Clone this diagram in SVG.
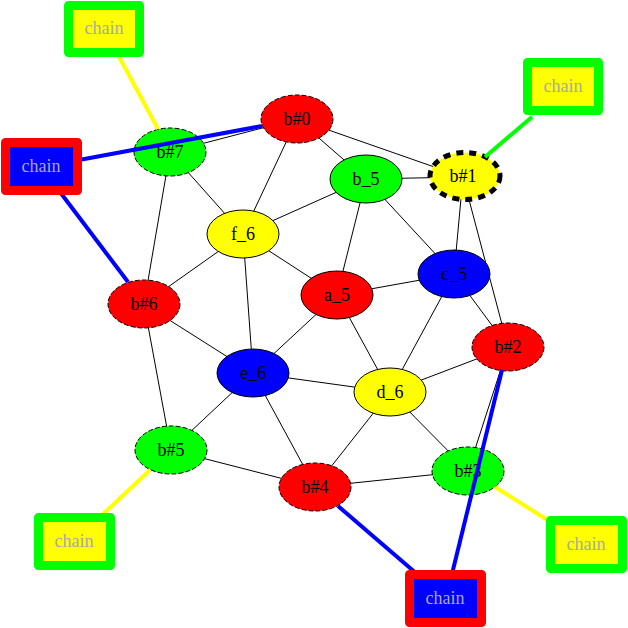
<svg xmlns="http://www.w3.org/2000/svg" width="628" height="628" viewBox="0 0 628 628">
<style>
.e{stroke:#000;stroke-width:1;fill:none}
.n ellipse{stroke:#000;stroke-width:1}
.d ellipse{stroke-dasharray:5,2}
.lbl{font-family:"Liberation Serif","Times New Roman",serif;font-size:18px;text-anchor:middle;dominant-baseline:central;fill:#000}
.ch rect{stroke-width:9;stroke-linejoin:round}
.ch text{font-family:"Liberation Serif","Times New Roman",serif;font-size:18px;text-anchor:middle;dominant-baseline:central;fill:#a8a8a8}
.ce{stroke-width:4;fill:none}
</style>
<rect width="628" height="628" fill="#fff"/>
<g id="edges">
<line class="e" x1="297" y1="119" x2="170" y2="152"/>
<line class="e" x1="297" y1="119" x2="463" y2="177"/>
<line class="e" x1="297" y1="119" x2="366" y2="179"/>
<line class="e" x1="297" y1="119" x2="243" y2="234"/>
<line class="e" x1="170" y1="152" x2="243" y2="234"/>
<line class="e" x1="170" y1="152" x2="144" y2="304"/>
<line class="e" x1="366" y1="179" x2="463" y2="177"/>
<line class="e" x1="366" y1="179" x2="243" y2="234"/>
<line class="e" x1="366" y1="179" x2="337" y2="295"/>
<line class="e" x1="366" y1="179" x2="454" y2="274"/>
<line class="e" x1="463" y1="177" x2="454" y2="274"/>
<line class="e" x1="463" y1="177" x2="508" y2="347"/>
<line class="e" x1="243" y1="234" x2="144" y2="304"/>
<line class="e" x1="243" y1="234" x2="337" y2="295"/>
<line class="e" x1="243" y1="234" x2="253" y2="373"/>
<line class="e" x1="454" y1="274" x2="337" y2="295"/>
<line class="e" x1="454" y1="274" x2="508" y2="347"/>
<line class="e" x1="454" y1="274" x2="390" y2="392"/>
<line class="e" x1="337" y1="295" x2="253" y2="373"/>
<line class="e" x1="337" y1="295" x2="390" y2="392"/>
<line class="e" x1="144" y1="304" x2="253" y2="373"/>
<line class="e" x1="144" y1="304" x2="171" y2="450"/>
<line class="e" x1="253" y1="373" x2="390" y2="392"/>
<line class="e" x1="253" y1="373" x2="171" y2="450"/>
<line class="e" x1="253" y1="373" x2="315" y2="487"/>
<line class="e" x1="390" y1="392" x2="508" y2="347"/>
<line class="e" x1="390" y1="392" x2="315" y2="487"/>
<line class="e" x1="390" y1="392" x2="468" y2="471"/>
<line class="e" x1="508" y1="347" x2="468" y2="471"/>
<line class="e" x1="171" y1="450" x2="315" y2="487"/>
<line class="e" x1="315" y1="487" x2="468" y2="471"/>
</g>
<g id="b0" class="n d"><ellipse cx="297" cy="119" rx="36" ry="24" fill="#ff0000"/><text class="lbl" x="297" y="119">b#0</text></g>
<g id="b7" class="n d"><ellipse cx="170" cy="152" rx="36" ry="24" fill="#00ff00"/><text class="lbl" x="170" y="152">b#7</text></g>
<g id="b1"><ellipse cx="465" cy="176" rx="35" ry="23.5" fill="#ffff00" stroke="#000" stroke-width="5" stroke-dasharray="7,6"/><text class="lbl" x="463" y="176">b#1</text></g>
<g id="b_5" class="n"><ellipse cx="366" cy="179" rx="36" ry="24" fill="#00ff00"/><text class="lbl" x="366" y="179">b_5</text></g>
<g id="f_6" class="n"><ellipse cx="243" cy="234" rx="36" ry="24" fill="#ffff00"/><text class="lbl" x="243" y="234">f_6</text></g>
<g id="c_5" class="n"><ellipse cx="454" cy="274" rx="36" ry="24" fill="#0000ff"/><text class="lbl" x="454" y="274">c_5</text></g>
<g id="a_5" class="n"><ellipse cx="337" cy="295" rx="36" ry="24" fill="#ff0000"/><text class="lbl" x="337" y="295">a_5</text></g>
<g id="b6" class="n d"><ellipse cx="144" cy="304" rx="36" ry="24" fill="#ff0000"/><text class="lbl" x="144" y="304">b#6</text></g>
<g id="b2" class="n d"><ellipse cx="508" cy="347" rx="36" ry="24" fill="#ff0000"/><text class="lbl" x="508" y="347">b#2</text></g>
<g id="e_6" class="n"><ellipse cx="253" cy="373" rx="36" ry="24" fill="#0000ff"/><text class="lbl" x="253" y="373">e_6</text></g>
<g id="d_6" class="n"><ellipse cx="390" cy="392" rx="36" ry="24" fill="#ffff00"/><text class="lbl" x="390" y="392">d_6</text></g>
<g id="b5" class="n d"><ellipse cx="171" cy="450" rx="36" ry="24" fill="#00ff00"/><text class="lbl" x="171" y="450">b#5</text></g>
<g id="b3" class="n d"><ellipse cx="468" cy="471" rx="36" ry="24" fill="#00ff00"/><text class="lbl" x="468" y="471">b#3</text></g>
<g id="b4" class="n d"><ellipse cx="315" cy="487" rx="36" ry="24" fill="#ff0000"/><text class="lbl" x="315" y="487">b#4</text></g>
<g id="chains">
<line class="ce" stroke="#ffff00" x1="117" y1="53" x2="158" y2="129"/>
<line class="ce" stroke="#0000ff" x1="79" y1="160" x2="262" y2="126"/>
<line class="ce" stroke="#0000ff" x1="60" y1="192" x2="128" y2="282"/>
<line class="ce" stroke="#00ff00" x1="532" y1="117" x2="485" y2="157"/>
<line class="ce" stroke="#ffff00" x1="100" y1="517" x2="150" y2="470"/>
<line class="ce" stroke="#ffff00" x1="549" y1="521" x2="495" y2="487"/>
<line class="ce" stroke="#0000ff" x1="417" y1="574" x2="338" y2="506"/>
<line class="ce" stroke="#0000ff" x1="452" y1="574" x2="502" y2="370"/>
</g>
<g id="chain1" class="ch"><rect x="68.5" y="5.5" width="71" height="47" fill="#ffff00" stroke="#00ff00"/><text x="104" y="28">chain</text></g>
<g id="chain2" class="ch"><rect x="5.5" y="142.5" width="72" height="48" fill="#0000ff" stroke="#ff0000"/><text x="41" y="166">chain</text></g>
<g id="chain3" class="ch"><rect x="527.5" y="62.5" width="71" height="48" fill="#ffff00" stroke="#00ff00"/><text x="563" y="86">chain</text></g>
<g id="chain4" class="ch"><rect x="38.5" y="517.5" width="72" height="48" fill="#ffff00" stroke="#00ff00"/><text x="74" y="541">chain</text></g>
<g id="chain5" class="ch"><rect x="550.5" y="520.5" width="72" height="48" fill="#ffff00" stroke="#00ff00"/><text x="586" y="544">chain</text></g>
<g id="chain6" class="ch"><rect x="409.5" y="574.5" width="72" height="48" fill="#0000ff" stroke="#ff0000"/><text x="445" y="598">chain</text></g>
</svg>
